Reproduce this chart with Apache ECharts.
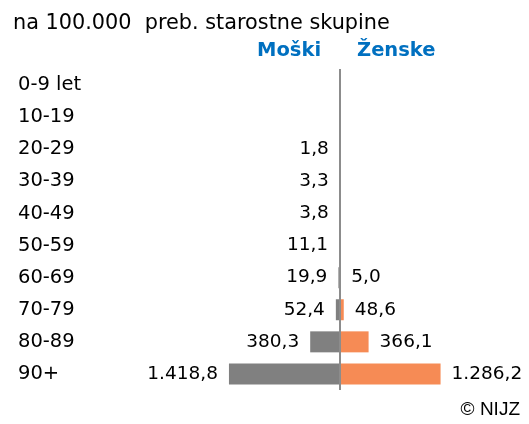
<!DOCTYPE html>
<html><head><meta charset="utf-8">
<script src="https://cdn.jsdelivr.net/npm/echarts@6/dist/echarts.min.js"></script>
<style>html,body{margin:0;padding:0;background:#fff}#c{width:529px;height:424px}</style>
</head><body><div id="c"></div>
<script>
const categories = ['0-9 let','10-19','20-29','30-39','40-49','50-59','60-69','70-79','80-89','90+'];
const men = [null, null, 1.8, 3.3, 3.8, 11.1, 19.9, 52.4, 380.3, 1418.8];
const women = [null, null, null, null, null, null, 5.0, 48.6, 366.1, 1286.2];
const title = 'na 100.000  preb. starostne skupine';
const legendMen = 'Moški';
const legendWomen = 'Ženske';
const credit = '© NIJZ';

function fmt(v){
  v = Math.abs(v);
  const parts = v.toFixed(1).split('.');
  parts[0] = parts[0].replace(/\B(?=(\d{3})+(?!\d))/g, '.');
  return parts[0] + ',' + parts[1];
}
const FONT = 'DejaVu Sans';
const chart = echarts.init(document.getElementById('c'), null, {renderer:'canvas'});
const gridLeft = 222.6, gridWidth = 234.7;
chart.setOption({
  animation:false,
  textStyle:{fontFamily:FONT},
  graphic:[
    {type:'text', left:13, top:13, style:{text:title, font:'20.8px "DejaVu Sans"', fill:'#000'}},
    {type:'text', left:257, top:41, style:{text:legendMen, font:'bold 19.5px "DejaVu Sans"', fill:'#0070C0'}},
    {type:'text', left:357, top:41, style:{text:legendWomen, font:'bold 19.5px "DejaVu Sans"', fill:'#0070C0'}},
    {type:'text', right:9, top:400, style:{text:credit, font:'19px "Liberation Sans"', fill:'#000'}}
  ],
  grid:{left:gridLeft, width:gridWidth, top:69, height:321, containLabel:false},
  xAxis:{type:'value', min:-1500, max:1500, show:false},
  yAxis:{type:'category', data:categories, inverse:true,
    axisLine:{show:false}, axisTick:{show:false},
    axisLabel:{align:'left', margin:gridLeft-18, color:'#000', fontSize:19.5, fontFamily:FONT}},
  series:[
    {type:'bar', name:legendMen, data:men.map(v=>v==null?null:-v), barWidth:21, barGap:'-100%',
     itemStyle:{color:'#808080'},
     label:{show:true, position:'left', distance:11, color:'#000', fontSize:18.5, fontFamily:FONT,
       formatter:p=>p.value==null?'':fmt(p.value)},
     markLine:{silent:true, symbol:'none', label:{show:false},
       lineStyle:{color:'#8c8c8c', width:2, type:'solid'}, data:[{xAxis:0}]}},
    {type:'bar', name:legendWomen, data:women, barWidth:21, barGap:'-100%',
     itemStyle:{color:'#F68B55'},
     label:{show:true, position:'right', distance:11, color:'#000', fontSize:18.5, fontFamily:FONT,
       formatter:p=>p.value==null?'':fmt(p.value)}}
  ]
});
</script></body></html>
